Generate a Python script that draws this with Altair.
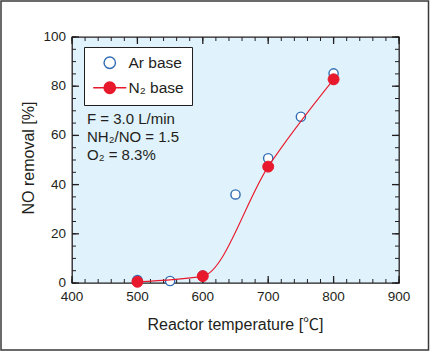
import altair as alt
import pandas as pd

# ---- data ----
temp_ar = [500, 550, 600, 650, 700, 750, 800]
removal_ar = [1.2, 0.8, 3.0, 36.0, 50.7, 67.6, 85.2]
temp_n2 = [500, 600, 700, 800]
removal_n2 = [0.5, 2.8, 47.3, 82.8]
series_names = ["Ar base", "N₂ base"]
x_major = [400, 500, 600, 700, 800, 900]
x_minor = [400, 420, 440, 460, 480, 500, 520, 540, 560, 580, 600, 620, 640,
           660, 680, 700, 720, 740, 760, 780, 800, 820, 840, 860, 880, 900]
y_major = [0, 20, 40, 60, 80, 100]
y_minor = [0, 5, 10, 15, 20, 25, 30, 35, 40, 45, 50, 55, 60, 65, 70, 75,
           80, 85, 90, 95, 100]
notes = ["F = 3.0 L/min", "NH₂/NO = 1.5", "O₂ = 8.3%"]
x_title = "Reactor temperature [℃]"
y_title = "NO removal [%]"

ar = pd.DataFrame({"temp": temp_ar, "removal": removal_ar, "series": series_names[0]})
n2 = pd.DataFrame({"temp": temp_n2, "removal": removal_n2, "series": series_names[1]})
both = pd.concat([ar, n2], ignore_index=True)

INK = "#231F20"
RED = "#E8192C"
BLUE = "#2F6CB3"
PANEL = "#E0F2FB"
FONT = "Liberation Sans, Noto Sans CJK JP"
N2_SYMBOL = "M-1,0A1,1,0,1,0,1,0A1,1,0,1,0,-1,0Z M-2.9,0L2.9,0"
W, H = 327, 246


def xs():
    return alt.Scale(domain=[400, 900], nice=False, zero=False)


def ys():
    return alt.Scale(domain=[0, 100], nice=False, zero=False)


legend_def = alt.Legend(title=None, orient="none", legendX=12, legendY=10,
                        padding=8, strokeColor=INK, fillColor="white",
                        labelFont=FONT, labelFontSize=15.5, labelColor=INK,
                        labelOffset=11, symbolSize=130, symbolStrokeWidth=1.4,
                        rowPadding=7, symbolOffset=10)

fill_enc = alt.Fill("series:N", scale=alt.Scale(domain=series_names, range=["white", RED]),
                    legend=legend_def)
stroke_enc = alt.Stroke("series:N", scale=alt.Scale(domain=series_names, range=[BLUE, RED]),
                        legend=legend_def)
shape_enc = alt.Shape("series:N", scale=alt.Scale(domain=series_names, range=["circle", N2_SYMBOL]),
                      legend=legend_def)


def X(field):
    return alt.X(field, scale=xs(), axis=None)


def Y(field):
    return alt.Y(field, scale=ys(), axis=None)


# ---- inward ticks on all four sides, placed through the scales ----
def x_ticks(values, y0, y1, width):
    return alt.Chart(pd.DataFrame({"v": values})).mark_rule(color=INK, strokeWidth=width).encode(
        x=X("v:Q"), y=alt.value(y0), y2=alt.value(y1))


def y_ticks(values, x0, x1, width):
    return alt.Chart(pd.DataFrame({"v": values})).mark_rule(color=INK, strokeWidth=width).encode(
        y=Y("v:Q"), x=alt.value(x0), x2=alt.value(x1))


tick_layers = [
    x_ticks(x_major, H - 7, H, 1.3), x_ticks(x_minor, H - 4, H, 1),
    x_ticks(x_major, 0, 7, 1.3), x_ticks(x_minor, 0, 4, 1),
    y_ticks(y_major, 0, 7, 1.3), y_ticks(y_minor, 0, 4, 1),
    y_ticks(y_major, W - 7, W, 1.3), y_ticks(y_minor, W - 4, W, 1),
]

# ---- tick labels and titles ----
x_labels = alt.Chart(pd.DataFrame({"v": x_major, "lab": [str(v) for v in x_major]})).mark_text(
    align="center", baseline="top", font=FONT, fontSize=13.5, color=INK
).encode(x=X("v:Q"), y=alt.value(H + 7), text="lab:N")

y_labels = alt.Chart(pd.DataFrame({"v": y_major, "lab": [str(v) for v in y_major]})).mark_text(
    align="right", baseline="middle", font=FONT, fontSize=13.5, color=INK
).encode(y=Y("v:Q"), x=alt.value(-6), text="lab:N")

x_title_layer = alt.Chart(pd.DataFrame({"t": [x_title]})).mark_text(
    align="center", baseline="alphabetic", font=FONT, fontSize=16, color=INK
).encode(text="t:N", x=alt.value(W / 2), y=alt.value(H + 47))

y_title_layer = alt.Chart(pd.DataFrame({"t": [y_title]})).mark_text(
    align="center", baseline="alphabetic", font=FONT, fontSize=16, color=INK, angle=270
).encode(text="t:N", x=alt.value(-38), y=alt.value(121))

# ---- data marks ----
ar_pts = alt.Chart(ar).mark_point(filled=True, size=85, strokeWidth=1.4, opacity=1).encode(
    x=X("temp:Q"), y=Y("removal:Q"), fill=fill_enc, stroke=stroke_enc,
)

line = alt.Chart(n2).mark_line(interpolate="monotone", color=RED, strokeWidth=1.1).encode(
    x=X("temp:Q"), y=Y("removal:Q"),
)

n2_pts = alt.Chart(n2).mark_point(filled=True, size=120, strokeWidth=1, opacity=1).encode(
    x=X("temp:Q"), y=Y("removal:Q"), fill=fill_enc, stroke=stroke_enc,
)

legend_shape = alt.Chart(both).transform_filter("false").mark_point(filled=True).encode(
    x=X("temp:Q"), y=Y("removal:Q"), shape=shape_enc,
)

note_layers = []
for i, txt in enumerate(notes):
    note_layers.append(
        alt.Chart(pd.DataFrame({"t": [txt]})).mark_text(
            align="left", baseline="alphabetic", font=FONT, fontSize=15, color=INK
        ).encode(text="t:N", x=alt.value(15), y=alt.value(87 + 18 * i))
    )

frame = alt.Chart(pd.DataFrame({"k": [0]})).mark_rect(
    fill="transparent", stroke="#3a3a3a", strokeWidth=1.5
).encode(x=alt.value(-71), x2=alt.value(356.5), y=alt.value(-36), y2=alt.value(313))

chart = alt.layer(
    *tick_layers, ar_pts, line, n2_pts, legend_shape,
    x_labels, y_labels, x_title_layer, y_title_layer, *note_layers, frame
).properties(
    width=W, height=H,
    autosize=alt.AutoSizeParams(type="none"),
    padding={"left": 72, "top": 37, "right": 32, "bottom": 71},
    background="white",
).configure_view(
    stroke=INK, strokeWidth=1.3, fill=PANEL
)

chart.save("out.html", embed_options={"renderer": "svg", "actions": False})
